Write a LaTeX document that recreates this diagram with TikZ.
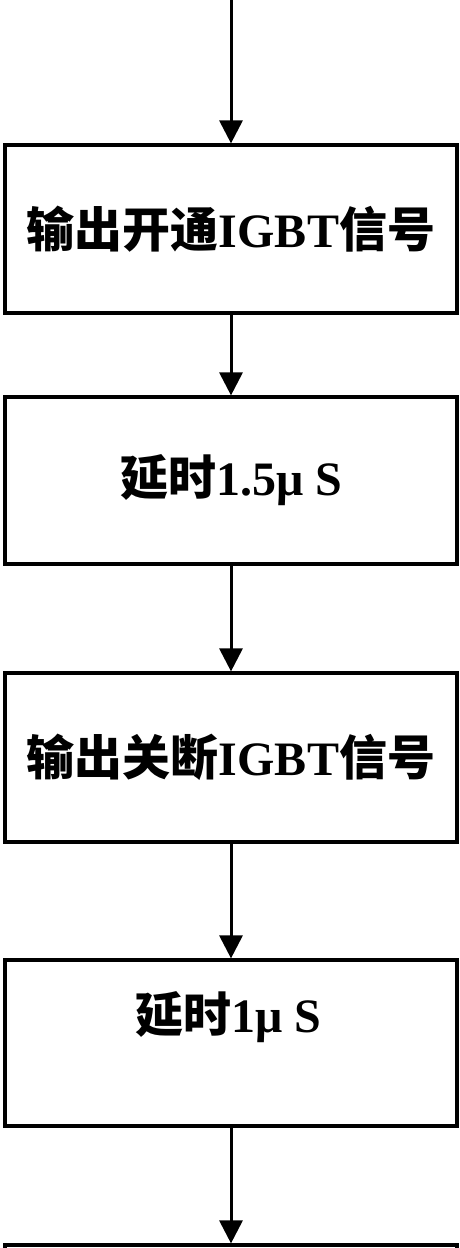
\documentclass[tikz,border=0pt]{standalone}
\usepackage{fontspec}
\setmainfont{Liberation Serif}
\newfontfamily\cjkfont{Noto Sans CJK SC}
\newcommand{\cj}[1]{{\cjkfont\bfseries #1}}
\usetikzlibrary{arrows.meta}
\begin{document}
\begin{tikzpicture}[x=1pt,y=-1pt,
  box/.style={draw, line width=3.2pt, minimum width=452pt, inner sep=0pt, font=\fontsize{48}{52}\selectfont},
  flow/.style={line width=3pt, -{Triangle[length=23pt,width=23pt]}}]
\useasboundingbox (0,0) rectangle (460,1248);
\clip (0,0) rectangle (460,1248);
\node[box, minimum height=168pt] (b1) at (231,229) {\cj{输出开通}\textbf{IGBT}\cj{信号}};
\node[box, minimum height=167pt] (b2) at (231,480.5) {\cj{延时}\textbf{1.5μ S}};
\node[box, minimum height=169pt] (b3) at (231,757.5) {\cj{输出关断}\textbf{IGBT}\cj{信号}};
\node[box, minimum height=166pt] (b4) at (231,1043) {};
\node[font=\fontsize{48}{52}\selectfont] (t4) at (228,1017) {\cj{延时}\textbf{1μ S}};
\node[box, minimum height=168pt] (b5) at (231,1329) {};
\coordinate (top) at (231,0);
\draw[flow] (top) -- (b1.north);
\draw[flow] (b1.south) -- (b2.north);
\draw[flow] (b2.south) -- (b3.north);
\draw[flow] (b3.south) -- (b4.north);
\draw[flow] (b4.south) -- (b5.north);
\end{tikzpicture}
\end{document}
